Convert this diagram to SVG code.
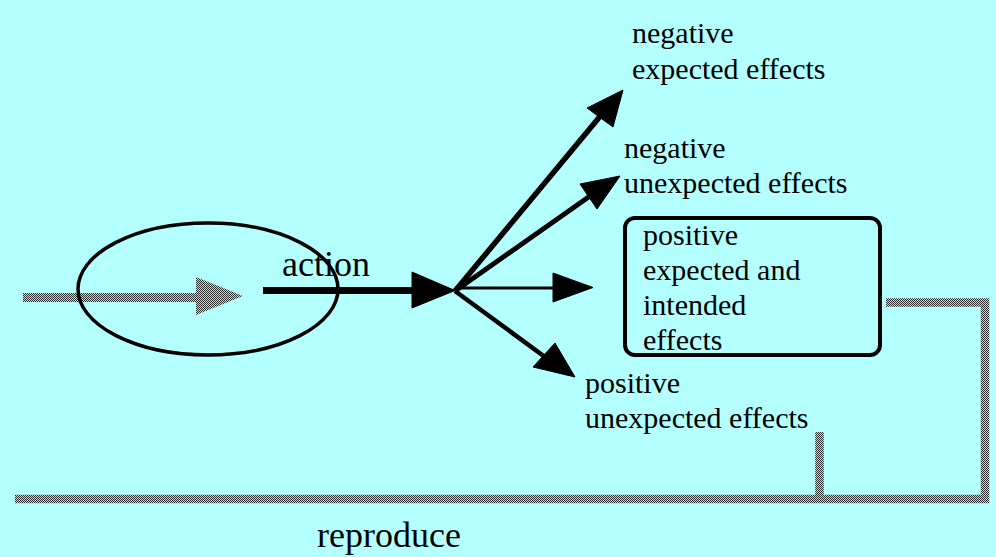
<svg xmlns="http://www.w3.org/2000/svg" width="996" height="557" viewBox="0 0 996 557">
<style>
.lbl{font-family:"Liberation Serif","Times New Roman",serif;font-size:30px;fill:#000}
.big{font-family:"Liberation Serif","Times New Roman",serif;font-size:36px;fill:#000}
.ln{stroke:#000;fill:none}
.hd{fill:#000;stroke:#000;stroke-width:1;stroke-linejoin:miter}
</style>
<defs>
<pattern id="chk" patternUnits="userSpaceOnUse" width="2" height="2">
<rect width="2" height="2" fill="#d4d4d4"/>
<rect width="1" height="1" fill="#2c2c2c"/>
<rect x="1" y="1" width="1" height="1" fill="#2c2c2c"/>
</pattern>
</defs>
<rect width="996" height="557" fill="#b4ffff"/>
<g id="input-arrow">
<rect x="23" y="293" width="174" height="9" fill="url(#chk)"/>
<polygon points="196,277 243,296 196,315" fill="url(#chk)"/>
</g>
<g id="action-ellipse">
<ellipse cx="208" cy="289" rx="130" ry="66" fill="none" stroke="#000" stroke-width="3.5"/>
</g>
<g id="action-label"><text class="big" x="282" y="276">action</text></g>
<g id="connectors">
<line class="ln" x1="263" y1="290.5" x2="415" y2="290.5" stroke-width="7"/>
<polygon class="hd" points="412,272 455,290.5 412,308"/>
<line class="ln" x1="455" y1="291" x2="602" y2="114" stroke-width="5.5"/>
<polygon class="hd" points="623,90 613,127 587,108"/>
<line class="ln" x1="455" y1="291" x2="590" y2="196" stroke-width="5"/>
<polygon class="hd" points="620,176 597,209 580,184"/>
<line class="ln" x1="455" y1="288" x2="556" y2="288" stroke-width="3"/>
<polygon class="hd" points="593,287.5 553,302 553,273"/>
<line class="ln" x1="455" y1="291" x2="545" y2="357" stroke-width="4.5"/>
<polygon class="hd" points="575,377 533,367 555,343"/>
<path d="M886,302.5 H985 V499 H15 M819.5,432 V499" fill="none" stroke="url(#chk)" stroke-width="8.5" stroke-linejoin="miter"/>
</g>
<g id="neg-expected">
<text class="lbl" x="632" y="43">negative</text>
<text class="lbl" x="632" y="79">expected effects</text>
</g>
<g id="neg-unexpected">
<text class="lbl" x="624" y="158">negative</text>
<text class="lbl" x="624" y="193">unexpected effects</text>
</g>
<g id="pos-expected">
<rect x="625" y="218" width="255" height="137" rx="10" fill="none" stroke="#000" stroke-width="4"/>
<text class="lbl" x="643" y="245">positive</text>
<text class="lbl" x="643" y="280">expected and</text>
<text class="lbl" x="643" y="315">intended</text>
<text class="lbl" x="643" y="350">effects</text>
</g>
<g id="pos-unexpected">
<text class="lbl" x="585" y="393">positive</text>
<text class="lbl" x="585" y="428">unexpected effects</text>
</g>
<g id="reproduce-label"><text class="big" x="317" y="547">reproduce</text></g>
</svg>
